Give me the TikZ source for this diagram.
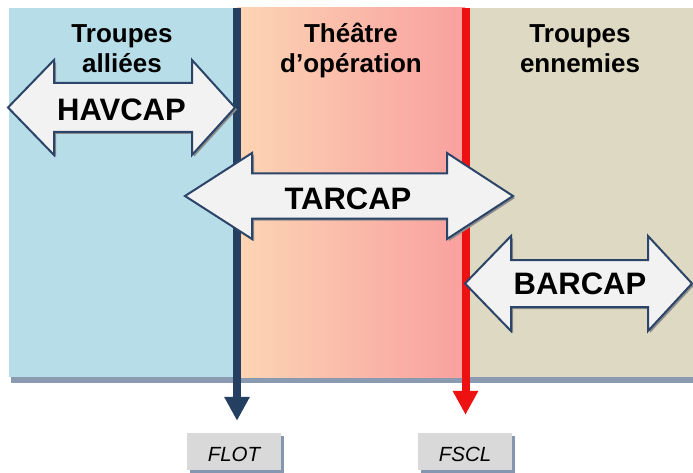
\documentclass[tikz,border=0pt]{standalone}
\usepackage{fontspec}
\setmainfont{Liberation Sans}
\usetikzlibrary{arrows.meta,shadows}
\definecolor{bluep}{HTML}{B7DEE8}
\definecolor{peachL}{HTML}{FCD5B4}
\definecolor{pinkR}{HTML}{F9A09F}
\definecolor{beige}{HTML}{DDD9C3}
\definecolor{bandc}{HTML}{8A9AB0}
\definecolor{navyl}{HTML}{243F60}
\definecolor{redl}{HTML}{EE1111}
\definecolor{arrfill}{HTML}{F2F2F2}
\definecolor{arrline}{HTML}{2B4467}
\definecolor{boxfill}{HTML}{D9D9D9}
\definecolor{boxshadow}{HTML}{8496B0}
\newcommand\dblarr[7]{%
  \path[arr] (#1,#5) -- (#2,#5-#6) -- (#2,#5-#7) -- (#3,#5-#7) -- (#3,#5-#6) -- (#4,#5)
   -- (#3,#5+#6) -- (#3,#5+#7) -- (#2,#5+#7) -- (#2,#5+#6) -- cycle;}
\begin{document}
\begin{tikzpicture}[x=1pt,y=-1pt,
  arr/.style={fill=arrfill, draw=arrline, line width=2pt, line join=miter,
    drop shadow={shadow xshift=2pt, shadow yshift=-2pt, fill=black!45, opacity=1}},
  ttl/.style={font=\bfseries\fontsize{26}{30}\selectfont, align=center, inner sep=0pt, anchor=base},
  lbl/.style={font=\bfseries\fontsize{31}{36}\selectfont, inner sep=0pt},
  tagbox/.style={fill=boxfill, minimum width=94pt, minimum height=37pt, inner sep=0pt,
    font=\itshape\fontsize{20.5}{24}\selectfont, text height=20.7pt, text depth=0pt,
    drop shadow={shadow xshift=2.5pt, shadow yshift=-2.5pt, fill=boxshadow, opacity=1}},
  vline/.style={line width=8pt, -{Triangle[width=24pt,length=24pt]}}
]
\useasboundingbox (0,0) rectangle (693,473);
\fill[white] (0,0) rectangle (693,473);
% panels
\fill[bandc] (11,377) rectangle (693,383);
\fill[bluep] (9,8) rectangle (237,377);
\shade[left color=peachL, right color=pinkR] (237,8) rectangle (465,377);
\fill[beige] (465,8) rectangle (693,377);
% label boxes
\node[tagbox] (flot) at (234,451.5) {FLOT};
\node[tagbox] (fscl) at (465,451.5) {FSCL};
% vertical lines
\coordinate (flottop) at (237,8);
\coordinate (fscltop) at (465.5,8);
\draw[vline, navyl, shorten >=12pt] (flottop) -- (flottop |- flot.north);
\draw[vline, redl, shorten >=18pt] (fscltop) -- (fscltop |- fscl.north);
% titles
\node[ttl] (allies) at (122,73) {Troupes\\alliées};
\node[ttl] (theatre) at (351,73) {Théâtre\\d’opération};
\node[ttl] (ennemis) at (580,73) {Troupes\\ennemies};
% double arrows
\dblarr{8}{54}{192}{235}{107.5}{47.5}{24.5}
\dblarr{185}{252}{447}{513}{196}{43}{22.5}
\dblarr{465}{511}{648}{692}{283.5}{47.5}{23.5}
\node[lbl] (havcap) at (121.5,110) {HAVCAP};
\node[lbl] (tarcap) at (348,198.5) {TARCAP};
\node[lbl] (barcap) at (580,284) {BARCAP};
\end{tikzpicture}
\end{document}
